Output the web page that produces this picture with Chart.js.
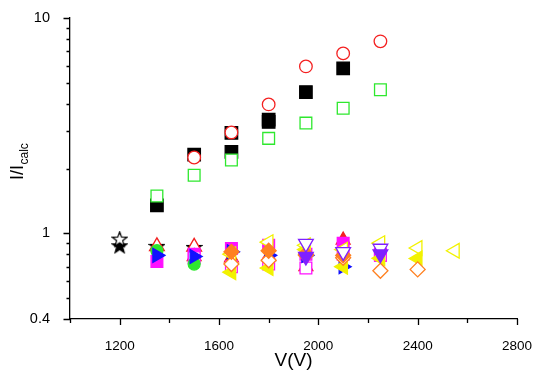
<!DOCTYPE html>
<html>
<head>
<meta charset="utf-8">
<script src="https://cdn.jsdelivr.net/npm/chart.js@4"></script>
<style>
  html, body { margin: 0; padding: 0; background: #fff; }
</style>
</head>
<body>
<canvas id="chart" width="537" height="381"></canvas>
<script>
// Voltage columns (V)
const volts = [1200, 1350, 1500, 1650, 1800, 1950, 2100, 2250, 2400, 2550];

// Upper series (I/Icalc)
const redCircles      = [null, null, 2.25, 2.94, 3.97, 5.96, 6.85, 7.79, null, null];
const greenSquares    = [null, 1.49, 1.86, 2.19, 2.76, 3.25, 3.81, 4.64, null, null];
const blackSquaresA   = [null, 1.35, 2.32, 2.93, 3.37, 4.53, 5.84, null, null, null];
const blackSquaresB   = [null, null, null, 2.39, 3.29, null, null, null, null, null];

// Lower cluster
const purpleFilledDown = [null, null, null, null, null, 0.78, null, 0.80, null, null];
const purpleOpenDown   = [null, null, null, null, null, 0.895, 0.82, 0.85, null, null];
const orangeFilledDia  = [null, null, null, 0.82, 0.83, 0.80, 0.79, null, null, null];
const orangeOpenDia    = [null, null, null, 0.72, 0.75, 0.79, 0.77, 0.67, 0.68, null];
const yellowFilledLeft = [null, null, null, 0.66, 0.69, 0.84, 0.70, 0.765, 0.763, null];
const yellowOpenLeft   = [null, null, null, 0.80, 0.91, 0.88, 0.84, 0.90, 0.855, 0.83];
const blueRight        = [null, 0.79, 0.78, 0.82, 0.79, 0.79, 0.70, null, null, null];
const greenCircles     = [null, 0.83, 0.72, null, null, null, null, null, null, null];
const magentaOpenSq    = [null, null, 0.77, 0.70, 0.72, 0.69, 0.80, 0.79, null, null];
const magentaFilledSq  = [null, 0.74, 0.80, 0.85, 0.88, 0.80, 0.90, 0.80, null, null];
const redFilledUp      = [null, null, 0.78, 0.77, 0.78, 0.70, 0.93, null, null, null];
const redOpenUp        = [null, 0.87, 0.865, null, null, null, null, null, null, null];
const openStar         = [0.94, null, null, null, null, null, null, null, null, null];
const filledStar       = [0.875, 0.87, 0.86, null, null, null, null, null, null, null];

// Axis ticks
const xTickLabels = [1200, 1600, 2000, 2400, 2800];
const xTicks = [1000, 1200, 1400, 1600, 1800, 2000, 2200, 2400, 2600, 2800];
const yTickLabels = [0.4, 1, 10];
const yTicks = [0.4, 0.5, 0.6, 0.7, 0.8, 0.9, 1, 2, 3, 4, 5, 6, 7, 8, 9, 10];

const FONT = "'Liberation Sans', Arial, Helvetica, sans-serif";

function toPoints(vals) {
    const pts = [];
    vals.forEach((v, i) => {
        if (v !== null) pts.push({ x: volts[i], y: v });
    });
    return pts;
}

function makeStar(fill, stroke) {
    const c = document.createElement('canvas');
    c.width = 17; c.height = 17;
    const g = c.getContext('2d');
    const cx = 8.5, cy = 9, ro = 7.8, ri = 3.2;
    g.beginPath();
    for (let k = 0; k < 10; k++) {
        const r = k % 2 === 0 ? ro : ri;
        const a = -Math.PI / 2 + k * Math.PI / 5;
        const px = cx + r * Math.cos(a), py = cy + r * Math.sin(a);
        if (k === 0) g.moveTo(px, py); else g.lineTo(px, py);
    }
    g.closePath();
    g.fillStyle = fill;
    g.fill();
    g.lineWidth = 1.2;
    g.strokeStyle = stroke;
    g.stroke();
    return c;
}

function series(vals, style, color, filled, radius, rotation) {
    return {
        data: toPoints(vals),
        pointStyle: style,
        pointRadius: radius,
        pointHoverRadius: radius,
        pointRotation: rotation || 0,
        backgroundColor: filled ? color : '#ffffff',
        borderColor: color,
        pointBorderWidth: 1.3,
        showLine: false
    };
}

const RED = '#f42020', GREEN = '#2ee82e', BLACK = '#000000', BLUE = '#1010ff';
const MAGENTA = '#ff10ff', ORANGE = '#ff8020', YELLOW = '#f2f200', PURPLE = '#8020ff';

// first dataset is drawn on top
const datasets = [
    series(redCircles, 'circle', RED, false, 6.3),
    series(greenSquares, 'rect', GREEN, false, 8.3),
    series(blackSquaresA, 'rect', BLACK, true, 8.8),
    series(blackSquaresB, 'rect', BLACK, true, 8.8),
    series(purpleFilledDown, 'triangle', PURPLE, true, 8.5, 180),
    series(purpleOpenDown, 'triangle', PURPLE, false, 8.5, 180),
    series(orangeFilledDia, 'rectRot', ORANGE, true, 7.5),
    series(orangeOpenDia, 'rectRot', ORANGE, false, 7.5),
    series(yellowFilledLeft, 'triangle', YELLOW, true, 8.5, -90),
    series(yellowOpenLeft, 'triangle', YELLOW, false, 8.5, -90),
    series(blueRight, 'triangle', BLUE, true, 8, 90),
    series(greenCircles, 'circle', GREEN, true, 6),
    series(magentaOpenSq, 'rect', MAGENTA, false, 8.3),
    series(magentaFilledSq, 'rect', MAGENTA, true, 8.3),
    series(redFilledUp, 'triangle', RED, true, 8),
    series(redOpenUp, 'triangle', RED, false, 8.5),
    series(openStar, makeStar('#ffffff', '#000000'), BLACK, false, 8),
    series(filledStar, makeStar('#000000', '#000000'), BLACK, true, 8)
];

// tick marks and axis titles
const axisDecor = {
    id: 'axisDecor',
    afterDraw(chart) {
        const ctx = chart.ctx;
        const xs = chart.scales.x, ys = chart.scales.y;
        const area = chart.chartArea;
        ctx.save();
        ctx.strokeStyle = '#000';
        ctx.lineWidth = 1.3;
        ctx.beginPath();
        xTicks.forEach(v => {
            const px = Math.round(xs.getPixelForValue(v)) + 0.5;
            const len = xTickLabels.includes(v) ? 6 : 4;
            ctx.moveTo(px, area.bottom);
            ctx.lineTo(px, area.bottom + len);
        });
        yTicks.forEach(v => {
            const py = Math.round(ys.getPixelForValue(v)) + 0.5;
            const len = yTickLabels.includes(v) ? 6.5 : 3.5;
            ctx.moveTo(area.left, py);
            ctx.lineTo(area.left - len, py);
        });
        ctx.stroke();

        // x title
        ctx.fillStyle = '#000';
        ctx.font = '19px ' + FONT;
        ctx.textAlign = 'center';
        ctx.textBaseline = 'middle';
        ctx.fillText('V(V)', (area.left + area.right) / 2, 361);

        // y title with subscript
        ctx.translate(23, 180);
        ctx.rotate(-Math.PI / 2);
        ctx.textAlign = 'left';
        ctx.textBaseline = 'alphabetic';
        ctx.font = '18px ' + FONT;
        ctx.fillText('I/I', 0, 0);
        const w = ctx.measureText('I/I').width;
        ctx.font = '12px ' + FONT;
        ctx.fillText('calc', w + 0.5, 4.5);
        ctx.restore();
    }
};

new Chart(document.getElementById('chart'), {
    type: 'scatter',
    data: { datasets: datasets },
    options: {
        responsive: false,
        animation: false,
        layout: { padding: { top: 18, right: 20, left: 0, bottom: 0 } },
        plugins: {
            legend: { display: false },
            tooltip: { enabled: false }
        },
        scales: {
            x: {
                type: 'linear',
                min: 1000,
                max: 2800,
                afterBuildTicks: s => { s.ticks = xTicks.map(v => ({ value: v })); },
                afterFit: s => {
                    s.height = 62;
                    s.paddingLeft = 0; s.paddingRight = 0;
                },
                grid: { display: false },
                border: { display: true, color: '#000', width: 1.3 },
                ticks: {
                    autoSkip: false,
                    maxRotation: 0,
                    padding: 11,
                    color: '#000',
                    font: { family: FONT, size: 13.5 },
                    callback: v => xTickLabels.includes(v) ? String(v) : ''
                }
            },
            y: {
                type: 'logarithmic',
                min: 0.4,
                max: 10,
                afterBuildTicks: s => { s.ticks = yTicks.map(v => ({ value: v })); },
                afterFit: s => {
                    s.width = 70;
                    s.paddingTop = 0; s.paddingBottom = 0;
                },
                grid: { display: false },
                border: { display: true, color: '#000', width: 1.3 },
                ticks: {
                    autoSkip: false,
                    padding: 12,
                    color: '#000',
                    font: { family: FONT, size: 14.5 },
                    callback: v => yTickLabels.includes(v) ? String(v) : ''
                }
            }
        }
    },
    plugins: [axisDecor]
});
</script>
</body>
</html>
